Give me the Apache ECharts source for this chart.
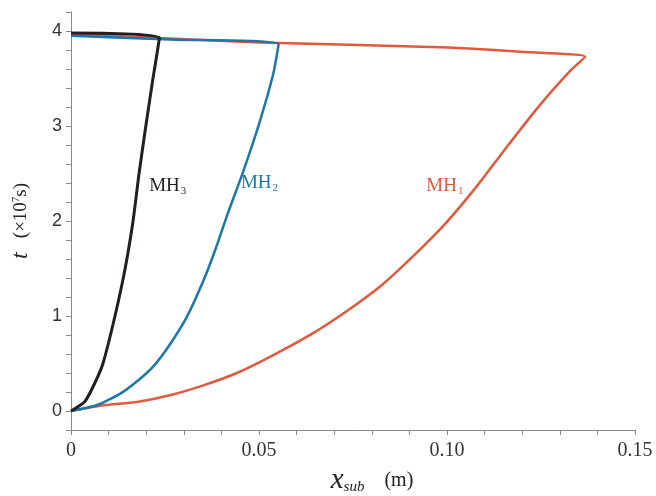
<!DOCTYPE html>
<html>
<head>
<meta charset="utf-8">
<script src="https://cdn.jsdelivr.net/npm/echarts@6/dist/echarts.min.js"></script>
<style>
    html, body { margin: 0; padding: 0; background: #fff; }
    #main { width: 656px; height: 496px; }
</style>
</head>
<body>
<div id="main"></div>
<script>
// MH1 curve: x_sub (m) and t (x10^7 s)
var mh1X = [0, 0.0086, 0.0175, 0.0263, 0.0352, 0.0441, 0.0529, 0.0644, 0.0733, 0.0822, 0.0910, 0.0995, 0.1080, 0.1159, 0.1247, 0.1330, 0.1367, 0.1250, 0.0980, 0.0500, 0];
var mh1T = [0, 0.06, 0.095, 0.166, 0.27, 0.40, 0.57, 0.82, 1.05, 1.31, 1.63, 1.97, 2.37, 2.78, 3.22, 3.59, 3.73, 3.77, 3.83, 3.88, 3.97];

// MH2 curve
var mh2X = [0, 0.0068, 0.0130, 0.0175, 0.0219, 0.0263, 0.0308, 0.0352, 0.0384, 0.0418, 0.0457, 0.0500, 0.0538, 0.0552, 0.0263, 0];
var mh2T = [0, 0.06, 0.18, 0.31, 0.47, 0.70, 0.99, 1.37, 1.70, 2.09, 2.51, 3.02, 3.55, 3.86, 3.91, 3.95];

// MH3 curve
var mh3X = [0, 0.0037, 0.0064, 0.0085, 0.0117, 0.0144, 0.0165, 0.0181, 0.0199, 0.0218, 0.0235, 0];
var mh3T = [0, 0.10, 0.30, 0.50, 1.00, 1.50, 2.00, 2.50, 3.00, 3.50, 3.93, 3.98];

// curve label anchors (left edge of text)
var labelNames = ['MH1', 'MH2', 'MH3'];
var labelSubs = ['1', '2', '3'];
var labelX = [0.0945, 0.0452, 0.0208];
var labelT = [2.37, 2.40, 2.37];

var colors = ['#e05a3d', '#1a78a8', '#231f20'];

function pairs(xs, ts) {
    var out = [];
    for (var i = 0; i < xs.length; i++) {
        out.push([xs[i], ts[i]]);
    }
    return out;
}

var serif = '"Liberation Serif", "Times New Roman", serif';

function curve(idx, xs, ts, width) {
    return {
        name: labelNames[idx],
        type: 'line',
        data: pairs(xs, ts),
        smooth: 0.2,
        showSymbol: false,
        symbol: 'none',
        lineStyle: { color: colors[idx], width: width },
        markPoint: {
            symbol: 'circle',
            symbolSize: 0,
            data: [{ coord: [labelX[idx], labelT[idx]] }],
            label: {
                show: true,
                position: 'right',
                distance: 0,
                formatter: '{m|MH}{s|' + labelSubs[idx] + '}',
                rich: {
                    m: { fontFamily: serif, fontSize: 19, color: colors[idx] },
                    s: { fontFamily: serif, fontSize: 11, color: colors[idx], padding: [10, 0, 0, 1] }
                }
            }
        }
    };
}

var myChart = echarts.init(document.getElementById('main'));

var option = {
    backgroundColor: '#fff',
    animation: false,
    grid: {
        left: 71,
        right: 21,
        top: 12,
        bottom: 66,
        containLabel: false,
        outerBoundsMode: 'none'
    },
    xAxis: {
        type: 'value',
        min: 0,
        max: 0.15,
        interval: 0.01,
        name: '{x|x}{s|sub}{u|    (m)}',
        nameLocation: 'middle',
        nameGap: 36,
        nameTextStyle: {
            padding: [0, 0, 0, 38],
            rich: {
                x: { fontFamily: serif, fontStyle: 'italic', fontSize: 29, color: '#222' },
                s: { fontFamily: serif, fontStyle: 'italic', fontSize: 15, color: '#222', padding: [14, 0, 0, 0] },
                u: { fontFamily: serif, fontSize: 20, color: '#222' }
            }
        },
        axisLine: { onZero: false, lineStyle: { color: '#8a8a8a', width: 1 } },
        axisTick: { length: 5, lineStyle: { color: '#8a8a8a' } },
        splitLine: { show: false },
        axisLabel: {
            fontFamily: serif,
            fontSize: 20,
            color: '#333',
            margin: 11,
            showMaxLabel: true,
            formatter: function (v) {
                var k = Math.round(v * 100);
                if (k % 5 !== 0) return '';
                if (k === 0) return '0';
                return (k / 100).toFixed(2);
            }
        }
    },
    yAxis: {
        type: 'value',
        min: -0.2,
        max: 4.2,
        interval: 0.2,
        name: '{t|t}{u|   (×10}{p|7}{u|s)}',
        nameLocation: 'middle',
        nameRotate: 90,
        nameGap: 38,
        nameTextStyle: {
            rich: {
                t: { fontFamily: serif, fontStyle: 'italic', fontSize: 24, color: '#222' },
                u: { fontFamily: serif, fontSize: 19, color: '#222' },
                p: { fontFamily: serif, fontSize: 11, color: '#222', padding: [0, 0, 10, 0] }
            }
        },
        axisLine: { show: true, onZero: false, lineStyle: { color: '#8a8a8a', width: 1 } },
        axisTick: { show: true, length: 5, lineStyle: { color: '#8a8a8a' } },
        splitLine: { show: false },
        axisLabel: {
            fontFamily: '"Liberation Sans", Arial, sans-serif',
            fontSize: 18,
            color: '#333',
            margin: 9,
            formatter: function (v) {
                var k = Math.round(v * 10);
                if (k % 10 !== 0 || k < 0) return '';
                return String(k / 10);
            }
        }
    },
    series: [
        curve(0, mh1X, mh1T, 2.5),
        curve(1, mh2X, mh2T, 2.5),
        curve(2, mh3X, mh3T, 3)
    ]
};

myChart.setOption(option);
</script>
</body>
</html>
